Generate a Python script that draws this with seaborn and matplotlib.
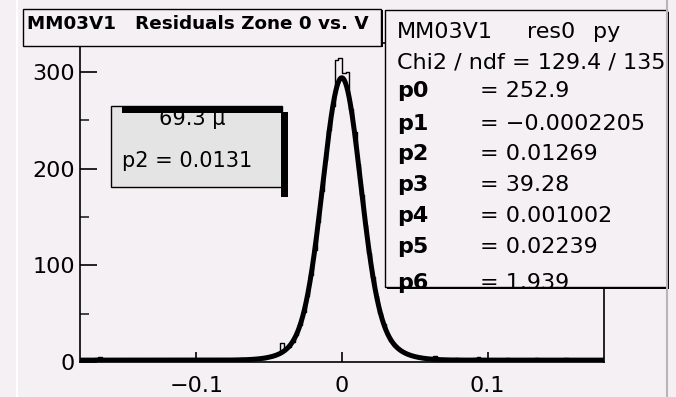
import numpy as np
import pandas as pd
import matplotlib
matplotlib.use("Agg")
import matplotlib.pyplot as plt
from matplotlib.patches import Rectangle
import seaborn as sns

# ---------------- data ----------------
hist_range = (-0.18, 0.18)
bin_width = 0.0025
counts_left_tail = [2, 1, 3, 2, 4, 5, 2, 1, 3, 2, 2, 3, 1, 2, 2, 1,
                    3, 2, 2, 1, 2, 3, 2, 2, 1, 2, 2, 3, 2, 1, 2, 2,
                    3, 2, 2, 1, 3, 2, 2, 3, 2, 3, 2, 3, 4, 3, 3, 4]
counts_core = [3, 4, 3, 5, 5, 6, 8, 20, 13, 16, 21, 28, 38, 52, 68, 90,
               116, 145, 177, 209, 240, 265, 312, 314,
               299, 300, 262, 238, 205, 173, 142, 113, 88, 68, 51, 39,
               29, 22, 17, 14, 11, 9, 7, 6, 5, 4, 4, 3]
counts_right_tail = [3, 6, 2, 3, 2, 2, 3, 4, 2, 2, 3, 2, 4, 5, 3, 2,
                     2, 3, 2, 2, 1, 4, 2, 2, 3, 2, 2, 1, 2, 4, 2, 2,
                     3, 2, 2, 2, 1, 4, 2, 2, 3, 2, 2, 1, 2, 2, 3, 1]

fit_params = [252.9, -0.0002205, 0.01269, 39.28, 0.001002, 0.02239, 1.939]
fit_names = ["p0", "p1", "p2", "p3", "p4", "p5", "p6"]
fit_values = ["252.9", "\u22120.0002205", "0.01269", "39.28", "0.001002", "0.02239", "1.939"]

title_text = "MM03V1   Residuals Zone 0 vs. V"
stats_header = ["MM03V1", "res0", "py"]
chi2_text = "Chi2 / ndf = 129.4 / 135"
box_lines = ["69.3 \u00b5", "p2 = 0.0131"]

xtick_values = [-0.1, 0.0, 0.1]
xtick_labels = ["\u22120.1", "0", "0.1"]
ytick_values = [0, 100, 200, 300]
ytick_labels = ["0", "100", "200", "300"]
yminor_values = [50, 150, 250]

# ---------------- style ----------------
BG = "#f4f0f4"
BOXFILL = "#e4e4e4"
sns.set_style("ticks")
plt.rcParams["font.family"] = ["DejaVu Sans"]

W, H = 676, 397
fig = plt.figure(figsize=(W / 100, H / 100), dpi=100, facecolor=BG)

ax_l, ax_r, ax_t, ax_b = 80, 604, 43, 362
ax = fig.add_axes([ax_l / W, (H - ax_b) / H, (ax_r - ax_l) / W, (ax_b - ax_t) / H])
ax.set_facecolor(BG)

counts = counts_left_tail + counts_core + counts_right_tail
nbins = len(counts)
edges = np.linspace(hist_range[0], hist_range[1], nbins + 1)
centers = 0.5 * (edges[:-1] + edges[1:])
df = pd.DataFrame({"x": centers, "n": np.asarray(counts, dtype=float)})

sns.histplot(data=df, x="x", weights="n", binwidth=bin_width, binrange=hist_range,
             element="step", fill=False, color="black", linewidth=1.0, ax=ax)

p0, p1, p2, p3, p4, p5, p6 = fit_params
xs = np.linspace(hist_range[0], hist_range[1], 1500)
ys = (p0 * np.exp(-0.5 * ((xs - p1) / p2) ** 2)
      + p3 * np.exp(-0.5 * ((xs - p4) / p5) ** 2) + p6)
sns.lineplot(x=xs, y=ys, color="black", linewidth=3.6, estimator=None,
             sort=False, ax=ax)

ax.set_xlim(-0.18, 0.18)
ax.set_ylim(0, 330)
ax.set_xlabel("")
ax.set_ylabel("")
ax.set_xticks(xtick_values)
ax.set_xticklabels(xtick_labels)
ax.set_yticks(ytick_values)
ax.set_yticklabels(ytick_labels)
ax.set_yticks(yminor_values, minor=True)
for s in ax.spines.values():
    s.set_visible(True)
    s.set_color("black")
    s.set_linewidth(1.2)
ax.tick_params(axis="y", which="major", direction="in", length=12, width=1.2,
               pad=3.5, labelsize=16, colors="black")
ax.tick_params(axis="y", which="minor", direction="in", length=6.5, width=1.2)
ax.tick_params(axis="x", which="major", direction="in", length=7, width=1.2,
               pad=10, labelsize=16, colors="black")

# ---------------- overlay (pixel coordinates) ----------------
ov = fig.add_axes([0, 0, 1, 1], zorder=10)
ov.set_xlim(0, W)
ov.set_ylim(H, 0)
ov.axis("off")
ov.patch.set_alpha(0)

# pad border highlights
ov.plot([17, 17], [0, H], color="white", lw=1.5)
ov.plot([667, 667], [0, H], color="#b8b4b8", lw=1.5)

# title box
ov.add_patch(Rectangle((24.5, 10), 358, 37, facecolor="black", edgecolor="none"))
ov.add_patch(Rectangle((22.5, 8.5), 358, 37, facecolor=BG, edgecolor="black", lw=1.0))
ov.text(27, 24, title_text, fontsize=13.2, fontweight="bold", va="center", ha="left",
        color="black")

# stats box
ov.add_patch(Rectangle((386.5, 12), 282, 277, facecolor="black", edgecolor="none"))
stats_rect = Rectangle((384.5, 10), 282, 277, facecolor=BG, edgecolor="black", lw=1.0)
ov.add_patch(stats_rect)
hx = [397, 527, 593]
for x, s in zip(hx, stats_header):
    ov.text(x, 32, s, fontsize=16, va="center", ha="left", color="black")
ov.text(397, 63, chi2_text, fontsize=16, va="center", ha="left", color="black")
line_y = [91, 124, 154, 185, 216, 247, 283]
for y, nm, val in zip(line_y, fit_names, fit_values):
    t1 = ov.text(397, y, nm, fontsize=16, fontweight="bold", va="center", ha="left",
                 color="black")
    t2 = ov.text(480, y, "= " + val, fontsize=16, va="center", ha="left",
                 color="black")
    t1.set_clip_path(stats_rect)
    t2.set_clip_path(stats_rect)

# small parameter box
ov.add_patch(Rectangle((110.5, 106), 171, 81, facecolor=BOXFILL, edgecolor="black", lw=1.0))
ov.text(192, 119, box_lines[0], fontsize=15, va="center", ha="center", color="black")
ov.text(122, 161, box_lines[1], fontsize=15, va="center", ha="left", color="black")
ov.add_patch(Rectangle((122, 106), 160, 6.5, facecolor="black", edgecolor="none"))
ov.add_patch(Rectangle((281, 112), 6.5, 85, facecolor="black", edgecolor="none"))

fig.savefig("out.png", dpi=100, facecolor=BG)
